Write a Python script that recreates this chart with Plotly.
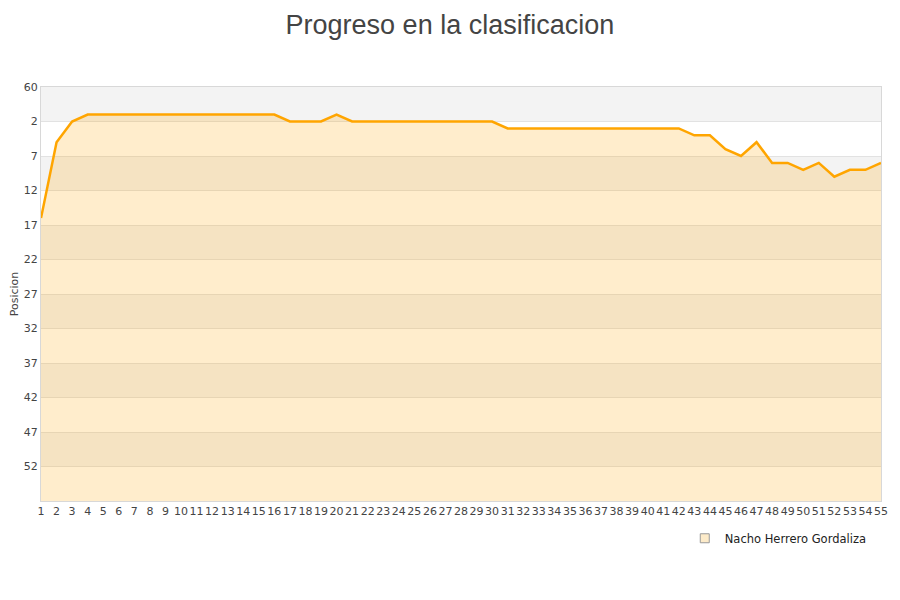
import plotly.graph_objects as go

# --- data ---
jornadas = list(range(1, 56))
posicion = [16, 5, 2, 1, 1, 1, 1, 1, 1, 1,
            1, 1, 1, 1, 1, 1, 2, 2, 2, 1,
            2, 2, 2, 2, 2, 2, 2, 2, 2, 2,
            3, 3, 3, 3, 3, 3, 3, 3, 3, 3,
            3, 3, 4, 4, 6, 7, 5, 8, 8, 9,
            8, 10, 9, 9, 8]
jugador = "Nacho Herrero Gordaliza"

y_ticks = [-3, 2, 7, 12, 17, 22, 27, 32, 37, 42, 47, 52]
y_labels = ["60", "2", "7", "12", "17", "22", "27", "32", "37", "42", "47", "52"]
y_min, y_max = -3, 57

fig = go.Figure()

# alternating grey bands behind everything
for i in range(0, len(y_ticks), 2):
    fig.add_shape(type="rect", xref="paper", yref="y", x0=0, x1=1,
                  y0=y_ticks[i], y1=y_ticks[i] + 5,
                  fillcolor="#f3f3f3", line_width=0, layer="below")

# baseline at the bottom of the (reversed) axis so the area fills downward
fig.add_trace(go.Scatter(x=jornadas, y=[y_max] * len(jornadas), mode="lines",
                         line=dict(width=0), hoverinfo="skip", showlegend=False))
fig.add_trace(go.Scatter(x=jornadas, y=posicion, mode="lines", name=jugador,
                         line=dict(color="#ffa500", width=2.5),
                         fill="tonexty", fillcolor="rgba(255,165,0,0.2)",
                         showlegend=False))
# legend swatch
fig.add_trace(go.Scatter(x=[None], y=[None], mode="markers", name=jugador,
                         marker=dict(symbol="square", size=9, color="#fdebc9",
                                     line=dict(color="#999999", width=1))))

fig.update_layout(
    width=900, height=600,
    paper_bgcolor="white", plot_bgcolor="white",
    font=dict(family="DejaVu Sans", size=11, color="#444444"),
    title=dict(text="Progreso en la clasificacion", x=0.491, xanchor="center",
               xref="container", y=0.973, yanchor="middle",
               font=dict(family="Liberation Sans", size=27, color="#444444")),
    margin=dict(l=33, r=27, t=79, b=107, autoexpand=False),
    legend=dict(x=0.989, xanchor="right", y=-0.09, yanchor="middle",
                itemwidth=30,
                font=dict(size=11.5, color="#222222"), bgcolor="rgba(0,0,0,0)"),
    showlegend=True,
)
fig.update_xaxes(range=[1, 55], tickmode="array", tickvals=jornadas,
                 ticktext=[str(j) for j in jornadas], tickangle=0,
                 automargin=False,
                 showgrid=False, zeroline=False, ticks="",
                 showline=True, linecolor="#d8d8d8", mirror=True,
                 tickfont=dict(size=11, color="#444444"))
fig.update_yaxes(range=[y_max, y_min], tickmode="array", tickvals=y_ticks,
                 ticktext=y_labels, showgrid=True, gridcolor="#e2e2e2",
                 automargin=False,
                 zeroline=False, ticks="", showline=True, linecolor="#d8d8d8",
                 mirror=True, title=dict(text="Posicion", standoff=6,
                                         font=dict(size=11, color="#444444")),
                 tickfont=dict(size=11, color="#444444"))

fig.write_html("out.html")
